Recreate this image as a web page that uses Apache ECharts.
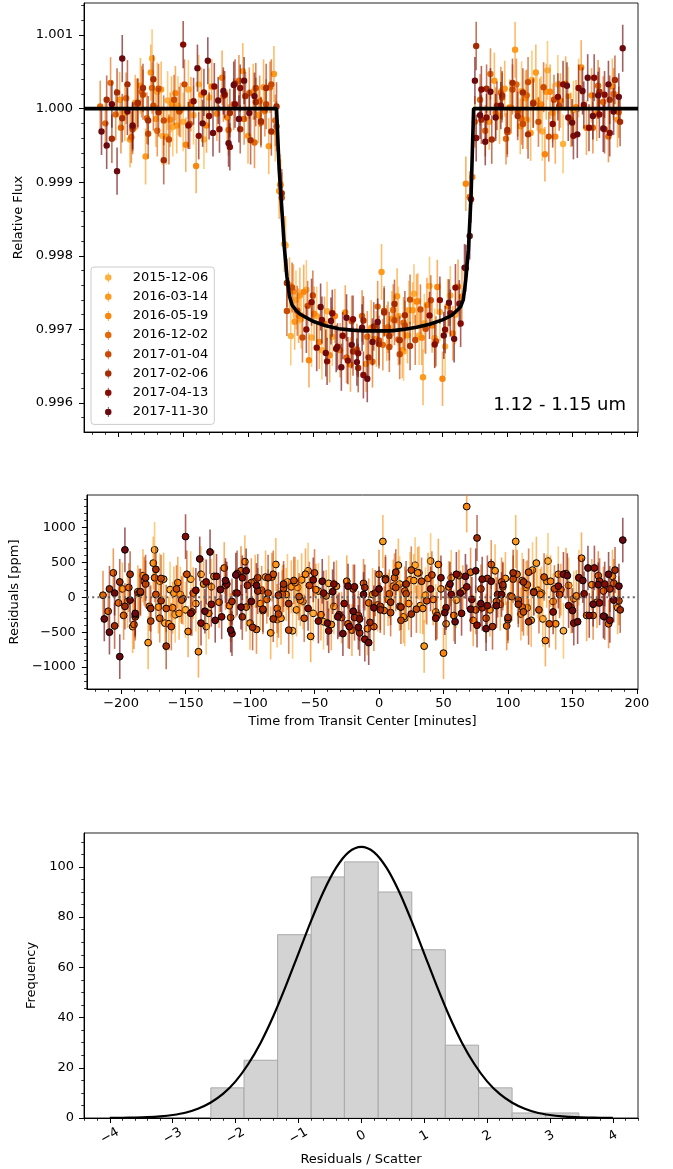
<!DOCTYPE html>
<html><head><meta charset="utf-8">
<script src="https://cdn.jsdelivr.net/npm/echarts@6/dist/echarts.min.js"></script>
<style>html,body{margin:0;padding:0;background:#fff}#c{width:673px;height:1169px}</style>
</head><body><div id="c"></div>
<script>
// ---------- DATA ----------
const visitLabels = ['2015-12-06','2016-03-14','2016-05-19','2016-12-02','2017-01-04','2017-02-06','2017-04-13','2017-11-30'];

const t_0 = [-174,-170,-166,-162,-158,-154,-150,-146,-142,-138,-134,-130, -79,-75,-71,-67,-63,-59,-55,-51,-47,-43,-39,-35, 16,20,24,28,32,36,40,44,48,52,56,60, 111,115,119,123,127,131,135,139,143,147,151,155];
const r_0 = [680,230,-370,110,-250,40,-180,260,-90,330,-420,150, -320,60,220,-480,140,-60,380,-230,90,-350,200,-130, 190,-300,250,460,-120,30,520,-210,120,-380,280,-40, 240,-150,390,100,-310,520,-60,330,-480,170,-20,280];

const t_1 = [-199,-195,-191,-187,-183,-179,-175,-171,-167,-163,-159,-155, -104,-100,-96,-92,-88,-84,-80,-76,-72,-68,-64,-60, -9,-5,-1,3,7,11,15,19,23,27,31,35, 86,90,94,98,102,106,110,114,118,122,126,130, 181,185];
const r_1 = [120,-60,-420,80,310,-650,490,-140,260,-380,60,-230, 510,-370,230,-90,290,-510,470,-300,40,150,-180,250, -450,40,-110,800,-30,160,460,-280,-90,240,350,-700, -180,380,-100,270,20,800,-240,140,-330,490,60,230, 300,-150];

const t_2 = [-160,-156,-152,-148,-144,-140,-136,-132,-128,-124,-120,-116, -65,-61,-57,-53,-49,-45,-41,-37,-33,-29,-25,-21, 30,34,38,42,46,50,54,58,62,65,68,73, 125,129,133,137,141,145,149,153,157,161,165,169];
const r_2 = [-150,210,-20,-490,60,-780,190,-230,300,-70,420,-120, 210,-40,330,-560,110,-250,20,-390,160,-290,230,-470, 350,-160,270,-30,470,-800,150,-260,310,90,1300,-330, 40,-620,230,-380,110,340,-150,20,560,-260,180,-70];

const t_3 = [-214,-210,-206,-202,-198,-194,-190,-186,-182,-178,-174,-170, -119,-115,-111,-107,-103,-99,-95,-91,-87,-83,-79,-75, -24,-20,-16,-12,-8,-4,0,4,8,12,16,20, 71,75,79,83,87,91,95,99,103,107,111,115, 166,170,174,178,182,186];
const r_3 = [30,-200,350,-80,-260,140,-390,60,230,-130,280,-300, 170,-290,60,380,-140,210,-460,100,-30,290,-160,40, -380,120,-260,200,-80,-420,330,-190,50,280,-130,90, 360,-180,120,-300,470,-60,220,-410,10,330,-140,180, -260,310,90,-380,200,-50];

const t_4 = [-189,-185,-181,-177,-173,-169,-165,-161,-157,-153,-149,-145, -94,-90,-86,-82,-78,-74,-70,-66,-62,-58,-54,-50, 1,5,9,13,17,21,25,29,33,37,41,45, 96,100,104,108,112,116,120,124,128,132,136,140];
const r_4 = [-280,70,190,-340,40,270,-160,-420,120,-40,330,-210, 280,-190,60,330,-240,130,-470,240,10,-300,170,350, -130,270,-220,140,-330,50,390,-170,230,-50,320,-260, 150,-320,260,-40,-210,360,80,-180,290,-380,120,40];

const t_5 = [-209,-205,-201,-197,-193,-189,-185,-181,-177,-173,-169,-165, -114,-110,-106,-102,-98,-94,-90,-86,-82,-78,-74,-70, -19,-15,-11,-7,-3,1,5,9,13,17,21,25, 76,80,84,88,92,96,100,104,108,112,116,120, 171,175,179,183,187];
const r_5 = [120,-410,220,-130,330,-250,80,280,-160,400,-50,-700, -60,340,-280,170,-430,90,-170,280,-310,30,190,-90, -290,-510,140,-360,60,-180,250,-70,360,-140,190,-240, 850,-150,270,-420,40,180,-290,350,-100,220,-350,70, 230,-280,120,390,-180];

const t_6 = [-150,-146,-142,-138,-134,-130,-126,-122,-118,-114,-110,-106, -55,-51,-47,-43,-39,-35,-31,-27,-23,-19,-15,-11, 40,44,48,52,56,60,64,68,72,76,80,84, 135,139,143,147,151,155,159,163,167,171,175,179];
const r_6 = [870,-230,100,-370,220,-100,300,-280,190,-520,60,280, -160,250,-340,60,-480,190,-250,-90,-420,150,-310,-600, 120,-300,280,-150,40,330,-230,150,-30,-400,260,-120, -210,160,330,-120,-370,280,50,-260,420,-80,190,-330];

const t_7 = [-213,-209,-205,-201,-197,-193,-189, -139,-135,-131,-127,-123,-119,-115,-111,-107,-103,-99,-95, -44,-40,-36,-32,-28,-24,-20,-16,-12,-8,-4,0, 51,55,59,63,67,71,75,79,83,87,91,95, 146,150,154,158,162,166,170,174,178,182,186,189];
const r_7 = [-310,-500,60,-850,680,-40,-230, 550,-200,650,-330,110,240,-470,320,-140,380,-60,170, 230,-370,80,-280,-520,160,-200,-430,40,-650,-150,120, -220,190,-350,60,300,-170,380,-90,-450,230,-120,40, 310,-190,-350,240,420,-100,180,-270,330,-40,160,820];

// error bar half-length per visit (ppm)
const errPpm = [400,380,370,350,340,330,320,320];

// transit model
const modelT = [-226.5,-78,-76,-74,-72,-70,-68,-66,-63,-60,-50,-40,-30,-20,-10,0,10,20,30,40,50,57,62,64,66,68,70,72,74,200.8];
const modelF = [1,1,0.99918,0.99866,0.99812,0.99772,0.99745,0.99733,0.99726,0.99721,0.99711,0.99705,0.99701,0.99699,0.99698,0.99698,0.99698,0.99700,0.99703,0.99707,0.99713,0.99719,0.99727,0.99731,0.99740,0.99768,0.99808,0.99880,1,1];

// histogram
const histEdges = [-2.393,-1.865,-1.331,-0.797,-0.269,0.269,0.803,1.336,1.865,2.398,2.930,3.460];
const histCounts = [12,23,73,96,102,90,67,29,12,2,2];
const gaussX = [-4,-3.8,-3.6,-3.4,-3.2,-3,-2.8,-2.6,-2.4,-2.2,-2,-1.8,-1.6,-1.4,-1.2,-1,-0.8,-0.6,-0.4,-0.2,0,0.2,0.4,0.6,0.8,1,1.2,1.4,1.6,1.8,2,2.2,2.4,2.6,2.8,3,3.2,3.4,3.6,3.8,4];
const gaussY = [0.04,0.08,0.17,0.33,0.65,1.2,2.1,3.7,6.1,9.6,14.6,21.4,30.0,40.5,52.6,65.5,78.4,90.2,99.7,105.9,108,105.9,99.7,90.2,78.4,65.5,52.6,40.5,30.0,21.4,14.6,9.6,6.1,3.7,2.1,1.2,0.65,0.33,0.17,0.08,0.04];

// tick labels
const fluxTicks = [0.996,0.997,0.998,0.999,1.000,1.001];
const timeTicks = [-200,-150,-100,-50,0,50,100,150,200];
const residTicks = [-1000,-500,0,500,1000];
const histXTicks = [-4,-3,-2,-1,0,1,2,3,4];
const histYTicks = [0,20,40,60,80,100];
const bandLabel = '1.12 - 1.15 um';

// ---------- STYLE ----------
const visitColors = ['#fdb03c','#fd9a1c','#fa860d','#e36808','#c94a04','#a42c05','#860c03','#6a0a0f'];
const FONT = 'DejaVu Sans';
const T_MIN = -226.5, T_MAX = 200.8;

const times = [t_0,t_1,t_2,t_3,t_4,t_5,t_6,t_7];
const resids = [r_0,r_1,r_2,r_3,r_4,r_5,r_6,r_7];

function modelAt(t) {
  for (let i = 1; i < modelT.length; i++) {
    if (t <= modelT[i]) {
      const a = (t - modelT[i-1]) / (modelT[i] - modelT[i-1]);
      return modelF[i-1] + a * (modelF[i] - modelF[i-1]);
    }
  }
  return modelF[modelF.length-1];
}
function minusFmt(v) { return v < 0 ? '\u2212' + String(Math.abs(v)) : String(v); }
function range(a, b, s, d) { const o = []; for (let k = 0; a + k*s <= b + s*1e-6; k++) o.push(+(a + k*s).toFixed(d)); return o; }

function axisPair(dim, gridIndex, min, max, majors, minors, label, name) {
  const pos = dim === 'x' ? 'bottom' : 'left';
  const main = {
    type: 'value', gridIndex, min, max, position: pos,
    axisLine: { show: true, onZero: false, lineStyle: { color: '#000', width: 1 } },
    axisTick: { show: true, customValues: majors, length: 5, lineStyle: { color: '#000', width: 1 } },
    axisLabel: label ? Object.assign({ show: true, customValues: majors, color: '#000', fontSize: 13, fontFamily: FONT, margin: dim === 'x' ? 8 : 11 }, label) : { show: false },
    splitLine: { show: false }
  };
  if (name) Object.assign(main, { name: name.text, nameLocation: 'middle', nameGap: name.gap, nameTextStyle: { color: '#000', fontSize: 13, fontFamily: FONT } });
  const minor = {
    type: 'value', gridIndex, min, max, position: pos,
    axisLine: { show: false, onZero: false },
    axisTick: { show: true, customValues: minors, length: 2.8, lineStyle: { color: '#000', width: 0.8 } },
    axisLabel: { show: false }, splitLine: { show: false }
  };
  return [main, minor];
}

const xAxes = [
  ...axisPair('x', 0, T_MIN, T_MAX, timeTicks, range(-220, 200, 10, 0), null, null),
  ...axisPair('x', 1, T_MIN, T_MAX, timeTicks, range(-220, 200, 10, 0), { formatter: minusFmt }, { text: 'Time from Transit Center [minutes]', gap: 26 }),
  ...axisPair('x', 2, -4.41, 4.40, histXTicks, range(-4.4, 4.4, 0.2, 1), { formatter: minusFmt, rotate: 30, align: 'center', verticalAlign: 'middle', margin: 18 }, { text: 'Residuals / Scatter', gap: 35 })
];
const yAxes = [
  ...axisPair('y', 0, 0.995606, 1.001435, fluxTicks, range(0.9958, 1.0014, 0.0002, 4), { formatter: v => Number(v).toFixed(3) }, { text: 'Relative Flux', gap: 53 }),
  ...axisPair('y', 1, -1314, 1466, residTicks, range(-1300, 1400, 100, 0), { formatter: minusFmt }, { text: 'Residuals [ppm]', gap: 59 }),
  ...axisPair('y', 2, 0, 113.5, histYTicks, range(0, 110, 5, 0), { formatter: minusFmt, margin: 10 }, { text: 'Frequency', gap: 40 })
];

function makeErrRender(errVal, edge) {
  return function (params, api) {
    const x = api.value(0), y = api.value(1);
    const p = api.coord([x, y]);
    const a = api.coord([x, y - errVal]);
    const b = api.coord([x, y + errVal]);
    const c = api.visual('color');
    return { type: 'group', children: [
      { type: 'line', shape: { x1: a[0], y1: a[1], x2: b[0], y2: b[1] }, style: { stroke: c, lineWidth: 1.6, opacity: 0.65 } },
      { type: 'circle', shape: { cx: p[0], cy: p[1], r: edge ? 3.4 : 3.2 }, style: edge ? { fill: c, stroke: '#000', lineWidth: 1 } : { fill: c } }
    ]};
  };
}

const series = [];
// model
series.push({ type: 'line', xAxisIndex: 0, yAxisIndex: 0, data: modelT.map((t, i) => [t, modelF[i]]), symbol: 'none', lineStyle: { color: '#000', width: 3.6 }, silent: true, z: 2 });
// top panel light curves
for (let i = 0; i < 8; i++) {
  series.push({
    type: 'custom', name: visitLabels[i], xAxisIndex: 0, yAxisIndex: 0, clip: true,
    itemStyle: { color: visitColors[i] },
    encode: { x: 0, y: 1 },
    data: times[i].map((t, j) => [t, modelAt(t) + resids[i][j] / 1e6]),
    renderItem: makeErrRender(errPpm[i] / 1e6, false)
  });
}
// zero line in residual panel
series.push({ type: 'line', xAxisIndex: 2, yAxisIndex: 2, data: [[T_MIN, 0], [T_MAX, 0]], symbol: 'none', silent: true, lineStyle: { color: '#666', width: 2, type: [2, 3.3] } });
// residuals
for (let i = 0; i < 8; i++) {
  series.push({
    type: 'custom', name: visitLabels[i], xAxisIndex: 2, yAxisIndex: 2, clip: true,
    itemStyle: { color: visitColors[i] },
    encode: { x: 0, y: 1 },
    data: times[i].map((t, j) => [t, resids[i][j]]),
    renderItem: makeErrRender(errPpm[i], true)
  });
}
// histogram
series.push({
  type: 'custom', xAxisIndex: 4, yAxisIndex: 4, clip: true,
  data: histCounts.map((c, i) => [histEdges[i], histEdges[i+1], c]),
  renderItem: function (params, api) {
    const p0 = api.coord([api.value(0), api.value(2)]);
    const p1 = api.coord([api.value(1), 0]);
    return { type: 'rect', shape: { x: p0[0], y: p0[1], width: p1[0] - p0[0], height: p1[1] - p0[1] }, style: { fill: '#d3d3d3', stroke: '#a9a9a9', lineWidth: 1 } };
  }
});
series.push({ type: 'line', xAxisIndex: 4, yAxisIndex: 4, data: gaussX.map((x, i) => [x, gaussY[i]]), symbol: 'none', smooth: 0.3, lineStyle: { color: '#000', width: 2.2 }, silent: true });

const option = {
  animation: false,
  backgroundColor: '#fff',
  textStyle: { fontFamily: FONT },
  grid: [
    { left: 84, top: 3, width: 554, height: 429, show: true, borderColor: '#222', borderWidth: 1, backgroundColor: 'transparent' },
    { left: 84, top: 495, width: 554, height: 194, show: true, borderColor: '#222', borderWidth: 1, backgroundColor: 'transparent' },
    { left: 84, top: 833, width: 554, height: 285, show: true, borderColor: '#222', borderWidth: 1, backgroundColor: 'transparent' }
  ],
  xAxis: xAxes,
  yAxis: yAxes,
  legend: {
    data: visitLabels, orient: 'vertical', left: 91, top: 267,
    itemWidth: 7, itemHeight: 10, itemGap: 6.2, padding: [4, 6, 6, 14],
    borderColor: '#ccc', borderWidth: 1, borderRadius: 3, backgroundColor: 'rgba(255,255,255,0.8)',
    icon: 'path://M9.3,0L10.7,0L10.7,20L9.3,20Z M16.5,10A6.5,6.5,0,1,1,3.5,10A6.5,6.5,0,1,1,16.5,10Z',
    itemStyle: { borderWidth: 0 },
    selectedMode: false,
    textStyle: { color: '#000', fontSize: 13, fontFamily: FONT, padding: [0, 0, 0, 16] }
  },
  graphic: [
    { type: 'text', right: 47, top: 396, style: { text: bandLabel, font: '18px "DejaVu Sans"', fill: '#000' } }
  ],
  series
};

const chart = echarts.init(document.getElementById('c'), null, { renderer: 'canvas' });
chart.setOption(option);
</script>
</body></html>
